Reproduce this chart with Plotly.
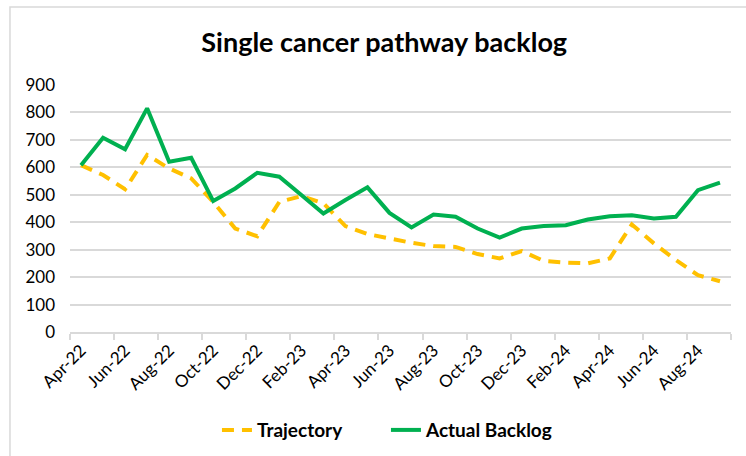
import plotly.graph_objects as go

# monthly series, Apr-22 .. Sep-24
months = ["Apr-22", "May-22", "Jun-22", "Jul-22", "Aug-22", "Sep-22", "Oct-22", "Nov-22",
          "Dec-22", "Jan-23", "Feb-23", "Mar-23", "Apr-23", "May-23", "Jun-23", "Jul-23",
          "Aug-23", "Sep-23", "Oct-23", "Nov-23", "Dec-23", "Jan-24", "Feb-24", "Mar-24",
          "Apr-24", "May-24", "Jun-24", "Jul-24", "Aug-24", "Sep-24"]
trajectory = [608, 572, 520, 645, 596, 560, 474, 377, 349, 474, 495, 469, 386, 357, 341,
              325, 313, 310, 284, 268, 295, 259, 253, 250, 268, 392, 323, 262, 207, 185]
actual_backlog = [608, 708, 666, 815, 620, 635, 477, 523, 580, 566, 499, 432, 481, 527, 434,
                  381, 428, 420, 377, 344, 377, 386, 389, 410, 422, 425, 414, 420, 517, 544]

xs = list(range(len(months)))
font = "Lato, 'Open Sans', sans-serif"
grid = "#d9d9d9"

fig = go.Figure()
fig.add_trace(go.Scatter(x=xs, y=trajectory, name="Trajectory", mode="lines",
                         line=dict(color="#FFC000", width=4, dash="12px,8px")))
fig.add_trace(go.Scatter(x=xs, y=actual_backlog, name="Actual Backlog", mode="lines",
                         line=dict(color="#00B050", width=4)))

fig.update_layout(
    width=746, height=456,
    margin=dict(l=70, r=15, t=85, b=124, autoexpand=False),
    paper_bgcolor="white", plot_bgcolor="white",
    font=dict(family=font, size=16, color="#000000"),
    title=dict(text="<b>Single cancer pathway backlog</b>", x=0.515, xref="container",
               xanchor="center", y=1 - 43 / 456, yref="container", yanchor="middle",
               font=dict(family=font, size=27, color="#000000")),
    showlegend=True,
    legend=dict(orientation="h", x=0.478, xanchor="center", y=-0.397, yanchor="middle",
                font=dict(family=font, size=19, color="#000000", weight="bold"),
                entrywidth=124, traceorder="normal"),
    # chart-area border
    shapes=[dict(type="rect", xref="paper", yref="paper", x0=-0.0908, x1=1.05,
                 y0=-0.6, y1=1.3158, line=dict(color=grid, width=1.5),
                 fillcolor="rgba(0,0,0,0)", layer="below")],
)

fig.update_xaxes(
    range=[-0.5, len(months) - 0.5], automargin=False,
    tickvals=xs[::2], ticktext=months[::2],
    tickangle=-45, ticks="", showgrid=False, zeroline=False,
    showline=True, linecolor=grid, linewidth=1.5,
    tickfont=dict(family=font, size=17, color="#000000"),
    minor=dict(tickvals=[i - 0.5 for i in range(0, len(months) + 1, 2)],
               ticks="outside", ticklen=6, tickcolor=grid, tickwidth=1.5, showgrid=False),
)
fig.update_yaxes(
    range=[0, 900], dtick=100, showgrid=True, gridcolor=grid, gridwidth=1.5,
    automargin=False, zeroline=False, showline=False, ticks="", ticklabelstandoff=14,
    tickfont=dict(family=font, size=17, color="#000000"),
)

# drop the browser's default 8px body margin so the figure sits at the window origin
fig.write_html("out.html", config={"displayModeBar": False},
               post_script="document.body.style.margin='0';")
